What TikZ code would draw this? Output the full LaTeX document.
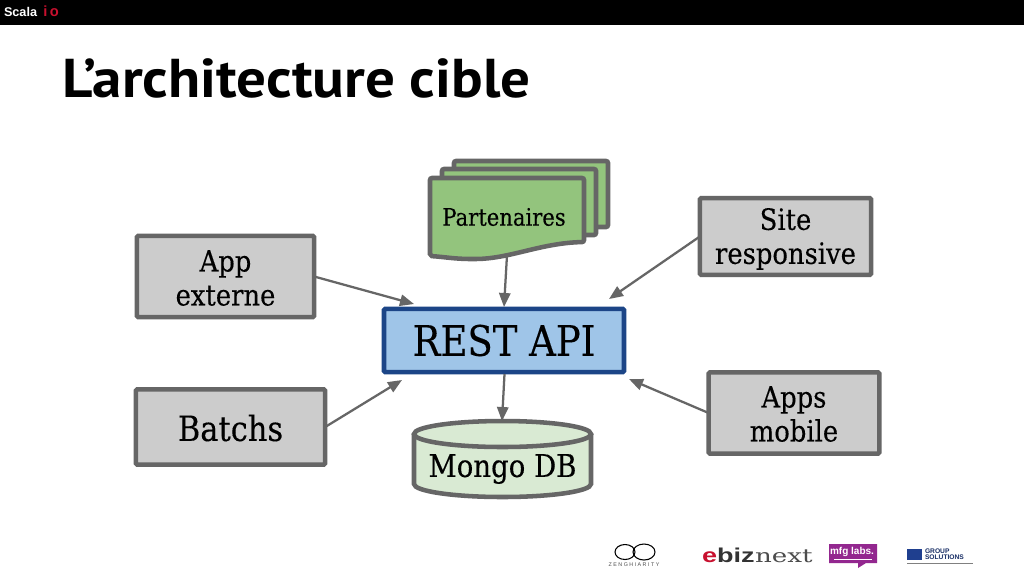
\documentclass[tikz,border=0pt]{standalone}
\usepackage{fontspec}
\setmainfont{DejaVu Serif}[FakeStretch=0.88,FakeBold=0.25]
\newfontfamily\titlefont{PT Sans}[FakeStretch=1.08]
\newfontfamily\logofont{Liberation Sans}
\newfontfamily\ebizfont{Liberation Sans}[FakeStretch=1.35]
\newfontfamily\wideserif{DejaVu Serif}[FakeStretch=1.4]
\usetikzlibrary{arrows.meta}
\definecolor{edgegray}{HTML}{666666}
\definecolor{boxgray}{HTML}{CCCCCC}
\definecolor{docgreen}{HTML}{93C47D}
\definecolor{apiblue}{HTML}{9FC5E8}
\definecolor{apiedge}{HTML}{1C4587}
\definecolor{dbgreen}{HTML}{D9EAD3}
\definecolor{scalared}{HTML}{C8102E}
\definecolor{mfgpurple}{HTML}{93278F}
\definecolor{axablue}{HTML}{1F3F8F}
\tikzset{
  x=0.75pt,y=-0.75pt,
  every node/.style={inner sep=0pt,outer sep=0pt,text=black,align=center},
  greybox/.style={draw=edgegray,fill=boxgray,line width=3.4pt,rounded corners=1pt},
  docpage/.style={draw=edgegray,fill=docgreen,line width=3.4pt,rounded corners=1.5pt},
  link/.style={draw=edgegray,line width=1.7pt,-{Triangle[length=10.5pt,width=8.5pt]}},
  boxtext/.style={font=\fontsize{22}{25.5}\selectfont},
}
\begin{document}
\begin{tikzpicture}
\useasboundingbox (0,0) rectangle (1024,576);
\fill[white] (0,0) rectangle (1024,576);
\fill[black] (0,0) rectangle (1024,25);
% header logo
\node[anchor=base west,text=white,font=\logofont\bfseries\fontsize{9.5}{10}\selectfont] (scala) at (4,16) {Scala};
\node[anchor=base west,text=scalared,font=\logofont\bfseries\fontsize{11}{11}\selectfont] (io) at (41,16) {\,i\,o};
% title
\node[anchor=base west,font=\titlefont\bfseries\fontsize{41}{44}\selectfont] (title) at (62,97) {L’architecture cible};

% documents
\draw[docpage] (454,161) -- (608,161) -- (608,227) -- (454,227) -- cycle;
\draw[docpage] (442,169) -- (596,169) -- (596,235) -- (442,235) -- cycle;
\draw[docpage] (430,178) -- (584,178) -- (584,242)
  .. controls (540,243) and (510,259) .. (473,259)
  .. controls (455,259) and (445,257) .. (430,256) -- cycle;
\node[font=\fontsize{18}{21}\selectfont] (partners) at (504,217) {Partenaires};
\coordinate (partnersout) at (507,255);

% REST API
\node[draw=apiedge,fill=apiblue,line width=3.4pt,rounded corners=1pt,minimum width=180pt,minimum height=47.5pt,font=\fontsize{31.5}{34}\selectfont] (api) at (504,340.5) {REST API};
\coordinate (apiout) at (504.5,374);
\coordinate (apiin) at (504,307);
\coordinate (apinw) at (414,304);
\coordinate (apisw) at (402,380);
\coordinate (apine) at (609,299);
\coordinate (apise) at (629,379);

% boxes
\node[greybox,minimum width=133pt,minimum height=61pt] (app) at (225.5,276.5) {};
\node[boxtext] (applabel) at (225.5,278) {App\\externe};
\node[greybox,minimum width=142pt,minimum height=56.5pt] (batch) at (230.5,427) {};
\node[font=\fontsize{26}{30}\selectfont] (batchlabel) at (230.5,428) {Batchs};
\node[greybox,minimum width=128.5pt,minimum height=57.5pt] (site) at (785.5,236.5) {};
\node[boxtext] (sitelabel) at (785.5,239) {Site\\responsive};
\node[greybox,minimum width=128pt,minimum height=61pt] (apps) at (794,413) {};
\node[boxtext] (appslabel) at (794,414) {Apps\\mobile};

% database
\draw[draw=edgegray,fill=dbgreen,line width=3.4pt] (414,434) -- (414,484)
  arc[start angle=180,end angle=0,x radius=88.5,y radius=13] -- (591,434);
\draw[draw=edgegray,fill=dbgreen,line width=3.4pt] (502.5,434) ellipse[x radius=88.5,y radius=13];
\node[font=\fontsize{23.5}{27}\selectfont] (mongo) at (502.5,469) {Mongo DB};
\coordinate (mongoin) at (502,421);

% connectors
\draw[link] (partnersout) -- (apiin);
\draw[link] (apiout) -- (mongoin);
\draw[link] (app.east) -- (apinw);
\draw[link] (batch.east) -- (apisw);
\draw[link] (site.west) -- (apine);
\draw[link] (apps.west) -- (apise);

% footer logos
\draw[black,line width=0.8pt] (625,552) ellipse[x radius=10,y radius=7.5] (644,552) ellipse[x radius=11,y radius=8];
\node[font=\logofont\fontsize{4}{5}\selectfont,text=black!70] (zen) at (634,565) {Z E N G H I A R I T Y};
\node[anchor=base west,font=\ebizfont\bfseries\fontsize{15}{16}\selectfont,text=black!80] (ebiz) at (702,562) {\textcolor{scalared}{e}biz};
\node[anchor=base west,font=\wideserif\fontsize{14}{15}\selectfont,text=black!70] (ebizb) at (755,562) {next};
\fill[mfgpurple] (829,544) rectangle (877,563) (858,563) -- (866,563) -- (858,568) -- cycle;
\node[font=\logofont\bfseries\fontsize{7.5}{8}\selectfont,text=white] (mfg) at (852,551.5) {mfg labs.};
\draw[white,line width=0.5pt] (834,559) -- (872,559);
\fill[axablue] (907,549) rectangle (922,560);
\node[anchor=west,font=\logofont\bfseries\fontsize{5}{4.6}\selectfont,text=axablue!70!black,align=left] (axa) at (925,554) {GROUP\\[-0.5pt]SOLUTIONS};
\draw[black!50,line width=0.6pt] (907,563) -- (973,563);
\end{tikzpicture}
\end{document}
